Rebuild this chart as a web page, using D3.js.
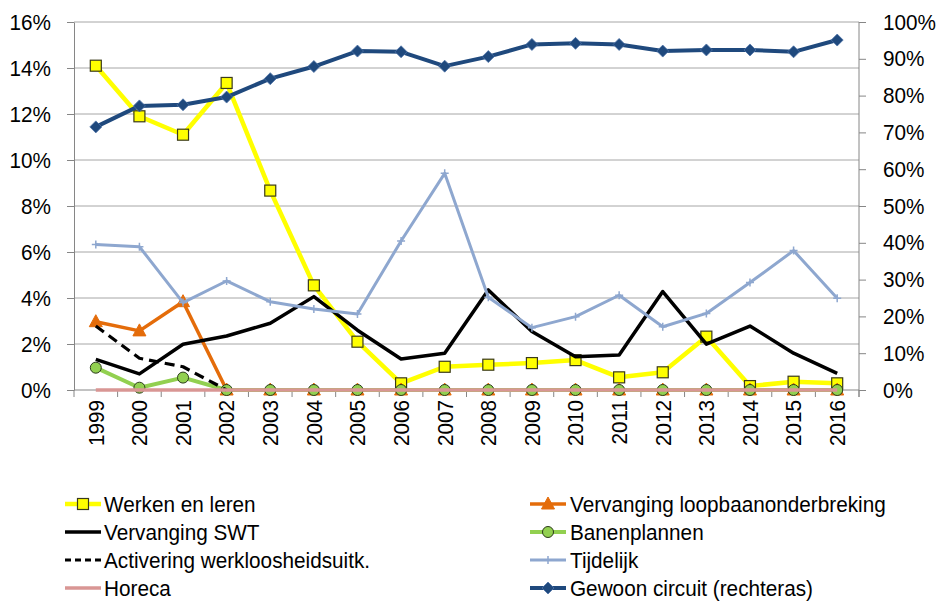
<!DOCTYPE html>
<html>
<head>
<meta charset="utf-8">
<script src="https://cdn.jsdelivr.net/npm/d3@7"></script>
<style>
  body { margin: 0; background: #fff; }
  svg { display: block; font-family: "Liberation Sans", Arial, sans-serif; }
</style>
</head>
<body>
<svg id="chart" width="940" height="602"></svg>
<script>
// data (percent values)
const years = ["1999","2000","2001","2002","2003","2004","2005","2006","2007","2008","2009","2010","2011","2012","2013","2014","2015","2016"];
const werkenLeren = [14.1, 11.9, 11.1, 13.35, 8.67, 4.55, 2.1, 0.29, 1.01, 1.1, 1.17, 1.3, 0.55, 0.77, 2.32, 0.17, 0.36, 0.29];
const loopbaan = [2.97, 2.57, 3.84, 0, 0, 0, 0, 0, 0, 0, 0, 0, 0, 0, 0, 0, 0, 0];
const swt = [1.33, 0.7, 1.99, 2.35, 2.9, 4.06, 2.6, 1.35, 1.6, 4.35, 2.54, 1.45, 1.52, 4.28, 1.99, 2.78, 1.6, 0.72];
const banenplannen = [0.97, 0.1, 0.54, 0, 0, 0, 0, 0, 0, 0, 0, 0, 0, 0, 0, 0, 0, 0];
const activering = [2.78, 1.38, 1.01, 0, null, null, null, null, null, null, null, null, null, null, null, null, null, null];
const tijdelijk = [6.33, 6.23, 3.8, 4.74, 3.84, 3.52, 3.3, 6.48, 9.42, 4.03, 2.71, 3.19, 4.12, 2.75, 3.33, 4.67, 6.06, 3.99];
const horeca = [0, 0, 0, 0, 0, 0, 0, 0, 0, 0, 0, 0, 0, 0, 0, 0, 0, 0];
const gewoon = [71.5, 77.2, 77.5, 79.6, 84.6, 87.9, 92.1, 91.9, 88.0, 90.6, 93.9, 94.2, 93.9, 92.1, 92.4, 92.4, 91.9, 95.1];
const leftTicks = [0, 2, 4, 6, 8, 10, 12, 14, 16];
const rightTicks = [0, 10, 20, 30, 40, 50, 60, 70, 80, 90, 100];

const series = [
  {name: "Werken en leren", values: werkenLeren, axis: "left", color: "#FFFF00", width: 4.5, marker: "square", fill: "#FFFF00"},
  {name: "Vervanging loopbaanonderbreking", values: loopbaan, axis: "left", color: "#E46C0A", width: 3.5, marker: "triangle", fill: "#E46C0A"},
  {name: "Vervanging SWT", values: swt, axis: "left", color: "#000000", width: 3.5, marker: null},
  {name: "Banenplannen", values: banenplannen, axis: "left", color: "#92D050", width: 4, marker: "circle", fill: "#92D050"},
  {name: "Activering werkloosheidsuitk.", values: activering, axis: "left", color: "#000000", width: 3.2, marker: null, dash: "10,6"},
  {name: "Tijdelijk", values: tijdelijk, axis: "left", color: "#8EA7CF", width: 3, marker: "plus"},
  {name: "Horeca", values: horeca, axis: "left", color: "#D99694", width: 3.5, marker: null},
  {name: "Gewoon circuit (rechteras)", values: gewoon, axis: "right", color: "#1F497D", width: 4, marker: "diamond", fill: "#1F497D"}
];
// legend is laid out in two columns, row by row
const legendOrder = ["Werken en leren", "Vervanging loopbaanonderbreking", "Vervanging SWT", "Banenplannen",
  "Activering werkloosheidsuitk.", "Tijdelijk", "Horeca", "Gewoon circuit (rechteras)"];

const svg = d3.select("#chart");
const plot = {left: 74, right: 859, top: 22, bottom: 390};
const FS = 22.3, NARROW = 0.93;   // the original text is slightly condensed

const x = d3.scaleBand().domain(years).range([plot.left, plot.right]).padding(0);
const cx = d => x(d) + x.bandwidth() / 2;
const yL = d3.scaleLinear().domain([0, 16]).range([plot.bottom, plot.top]);
const yR = d3.scaleLinear().domain([0, 100]).range([plot.bottom, plot.top]);

// squeeze a text horizontally, keeping its anchor at x
function narrow(sel, xPos) {
  sel.attr("x", xPos / NARROW).attr("transform", `scale(${NARROW},1)`)
    .attr("font-size", FS).attr("fill", "#000").attr("font-family", null);
}

// grid lines
svg.append("g").selectAll("line").data(leftTicks.filter(t => t > 0)).join("line")
  .attr("x1", plot.left).attr("x2", plot.right)
  .attr("y1", d => yL(d)).attr("y2", d => yL(d))
  .attr("stroke", "#A6A6A6").attr("stroke-width", 1);

// left axis
const axisL = svg.append("g").attr("transform", `translate(${plot.left},0)`)
  .call(d3.axisLeft(yL).tickValues(leftTicks).tickSize(7).tickSizeOuter(0).tickFormat(d => d + "%"));
axisL.select(".domain").attr("stroke", "#868686");
axisL.selectAll(".tick line").attr("stroke", "#868686");
axisL.selectAll(".tick text").call(narrow, -23);

// right axis
const axisR = svg.append("g").attr("transform", `translate(${plot.right},0)`)
  .call(d3.axisRight(yR).tickValues(rightTicks).tickSize(7).tickSizeOuter(0).tickFormat(d => d + "%"));
axisR.select(".domain").attr("stroke", "#868686").attr("d", `M0,${plot.top}V${plot.bottom + 7}`);
axisR.selectAll(".tick line").attr("stroke", "#868686");
axisR.selectAll(".tick text").call(narrow, 24);

// bottom axis: boundary ticks + rotated labels
const xg = svg.append("g");
xg.append("line").attr("x1", plot.left).attr("x2", plot.right)
  .attr("y1", plot.bottom).attr("y2", plot.bottom).attr("stroke", "#868686");
xg.selectAll(".bt").data(years.map(d => x(d)).concat([plot.right])).join("line")
  .attr("class", "bt")
  .attr("x1", d => d).attr("x2", d => d)
  .attr("y1", plot.bottom).attr("y2", plot.bottom + 7)
  .attr("stroke", "#868686");
xg.selectAll("text").data(years).join("text")
  .attr("transform", d => `translate(${cx(d)},${plot.bottom + 10}) rotate(-90) scale(${NARROW},1)`)
  .attr("text-anchor", "end").attr("dy", "0.35em")
  .attr("font-size", FS).attr("fill", "#000")
  .text(d => d);

// markers
function drawMarker(g, type, s) {
  if (type === "square") {
    g.append("rect").attr("x", -5.5).attr("y", -5.5).attr("width", 11).attr("height", 11)
      .attr("fill", s.fill).attr("stroke", "#3a3a1a").attr("stroke-width", 1.2);
  } else if (type === "triangle") {
    g.append("path").attr("d", "M0,-7L6.5,5L-6.5,5Z").attr("fill", s.fill).attr("stroke", s.color);
  } else if (type === "circle") {
    g.append("circle").attr("r", 5.5).attr("fill", s.fill).attr("stroke", "#2b3a1a").attr("stroke-width", 1);
  } else if (type === "diamond") {
    g.append("path").attr("d", "M0,-6L6,0L0,6L-6,0Z").attr("fill", s.fill).attr("stroke", "#4F74A8").attr("stroke-width", 0.8);
  } else if (type === "plus") {
    g.append("path").attr("d", "M-4,0H4M0,-4V4").attr("stroke", s.color).attr("stroke-width", 1.5);
  }
}

const line = (yScale) => d3.line().defined(d => d.v !== null).x(d => cx(d.year)).y(d => yScale(d.v));

series.forEach(s => {
  const yScale = s.axis === "left" ? yL : yR;
  const pts = s.values.map((v, i) => ({year: years[i], v}));
  const g = svg.append("g");
  g.append("path").datum(pts)
    .attr("d", line(yScale))
    .attr("fill", "none").attr("stroke", s.color).attr("stroke-width", s.width)
    .attr("stroke-dasharray", s.dash || null)
    .attr("stroke-linejoin", "round");
  if (s.marker) {
    g.selectAll(".m").data(pts.filter(d => d.v !== null)).join("g")
      .attr("class", "m")
      .attr("transform", d => `translate(${cx(d.year)},${yScale(d.v)})`)
      .each(function() { drawMarker(d3.select(this), s.marker, s); });
  }
});

// legend
const legend = svg.append("g");
legendOrder.forEach((name, i) => {
  const s = series.find(d => d.name === name);
  const col = i % 2, row = Math.floor(i / 2);
  const lx = col === 0 ? 65 : 530;
  const ly = 504 + row * 28;
  const g = legend.append("g").attr("transform", `translate(${lx},${ly})`);
  g.append("line").attr("x1", 0).attr("x2", 36).attr("y1", 0).attr("y2", 0)
    .attr("stroke", s.color).attr("stroke-width", s.width)
    .attr("stroke-dasharray", s.dash ? "6,4" : null);
  if (s.marker) {
    const m = g.append("g").attr("transform", "translate(18,0)");
    drawMarker(m, s.marker, s);
  }
  g.append("text").attr("dy", "0.35em").text(name).call(narrow, col === 0 ? 39 : 40);
});
</script>
</body>
</html>
